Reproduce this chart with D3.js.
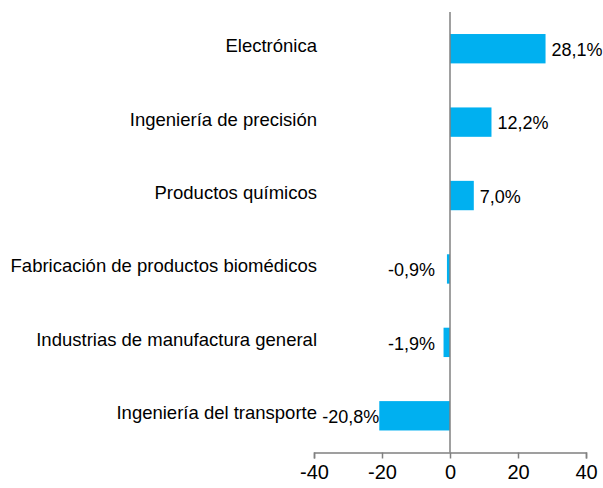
<!DOCTYPE html>
<html><head><meta charset="utf-8">
<script src="https://cdn.jsdelivr.net/npm/d3@7"></script>
<style>body{margin:0;background:#fff}svg{display:block}text{font-family:"Liberation Sans",Arial,sans-serif;fill:#000}</style>
</head><body><div id="chart"></div>
<script>
const categories = ["Electrónica","Ingeniería de precisión","Productos químicos","Fabricación de productos biomédicos","Industrias de manufactura general","Ingeniería del transporte"];
const values = [28.1, 12.2, 7.0, -0.9, -1.9, -20.8];
const valueLabels = ["28,1%","12,2%","7,0%","-0,9%","-1,9%","-20,8%"];
const tickValues = [-40, -20, 0, 20, 40];

const W = 603, H = 488;
const svg = d3.select("#chart").append("svg").attr("width", W).attr("height", H);
const x = d3.scaleLinear().domain([-40, 40]).range([314, 586]);
const y = d3.scaleBand().domain(categories).range([12, 452.5]).paddingInner(0.6).paddingOuter(0.3);

// bars
svg.selectAll("rect.bar").data(values).enter().append("rect")
  .attr("x", d => Math.min(x(0), x(d)))
  .attr("width", d => Math.abs(x(d) - x(0)))
  .attr("y", (d, i) => y(categories[i]))
  .attr("height", y.bandwidth())
  .attr("fill", "#00B0F0");

// x axis
const xAxis = d3.axisBottom(x).tickValues(tickValues).tickSize(6).tickPadding(6).tickFormat(d => d);
const gx = svg.append("g").attr("transform", "translate(0,452.5)").call(xAxis);
gx.select(".domain").attr("stroke", "#808080").attr("stroke-width", 1.5);
gx.selectAll(".tick line").attr("stroke", "#808080").attr("stroke-width", 1.5);
gx.selectAll(".tick text").attr("font-size", 20).attr("font-family", '"Liberation Sans",Arial,sans-serif').attr("fill", "#000");

// zero line
svg.append("line").attr("x1", x(0)).attr("x2", x(0)).attr("y1", 12).attr("y2", 452.5)
  .attr("stroke", "#808080").attr("stroke-width", 1.5);

// category labels
svg.selectAll("text.cat").data(categories).enter().append("text")
  .attr("class", "cat")
  .attr("x", 317)
  .attr("y", d => y(d) + y.bandwidth() / 2 - 3)
  .attr("dy", "0.35em")
  .attr("text-anchor", "end")
  .attr("font-size", 18.5)
  .text(d => d);

// value labels
svg.selectAll("text.val").data(values).enter().append("text")
  .attr("class", "val")
  .attr("x", d => d >= 0 ? x(d) + 6 : Math.min(x(d), x(0) - 15))
  .attr("y", (d, i) => y(categories[i]) + y.bandwidth() / 2 + 1)
  .attr("dy", "0.35em")
  .attr("text-anchor", d => d >= 0 ? "start" : "end")
  .attr("font-size", 18)
  .text((d, i) => valueLabels[i]);
</script></body></html>
